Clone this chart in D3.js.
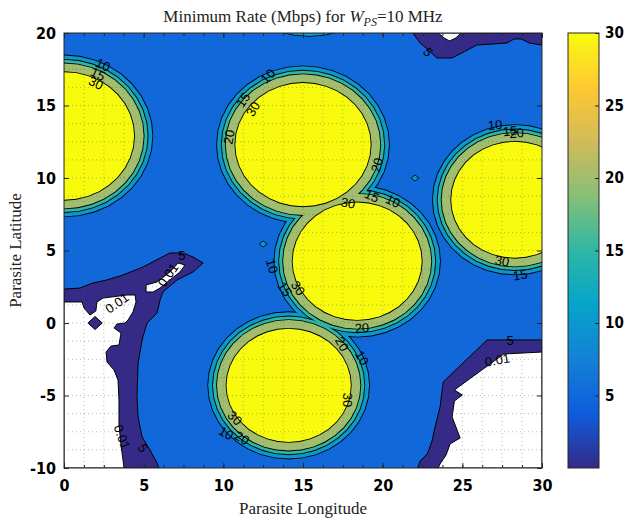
<!DOCTYPE html>
<html>
<head>
<meta charset="utf-8">
<script src="https://cdn.jsdelivr.net/npm/d3@7"></script>
<style>
  body { margin: 0; background: #fff; }
  svg { display: block; }
  .tick text { font-family: "DejaVu Sans Condensed", "DejaVu Sans", sans-serif; font-weight: bold; font-size: 16px; fill: #000; }
  .tick line { stroke: #262626; }
  .clabel { font-family: "Liberation Sans", Arial, sans-serif; font-size: 13px; fill: #000; }
  .ttl { font-family: "Liberation Serif", "DejaVu Serif", serif; font-size: 17px; fill: #222; }
</style>
</head>
<body>
<svg></svg>
<script>
const width = 627, height = 519;
const margin = { top: 33, right: 85, bottom: 51, left: 64 };
const innerWidth = width - margin.left - margin.right;
const innerHeight = height - margin.top - margin.bottom;

// contour levels (Mbps)
const levels = [0.01, 5, 10, 15, 20, 30];
const xTicks = [0, 5, 10, 15, 20, 25, 30];
const yTicks = [-10, -5, 0, 5, 10, 15, 20];
const cbTicks = [5, 10, 15, 20, 25, 30];

// parula colormap stops
const parula = ["#352a87", "#0f5cdd", "#1481d6", "#06a4ca", "#2eb7a4",
                "#87bf77", "#d1bb59", "#fec832", "#f9fb0e"];

// high-rate cells: centre and radius of the 30 Mbps contour
const cellX = [0.0, 15.0, 18.4, 14.1, 28.3, 15.4];
const cellY = [12.9, 12.3, 4.26, -4.3, 8.5, 25.5];
const cellR = [4.4, 4.25, 4.05, 3.9, 4.0, 4.55];

// contours around each cell: level and distance outside the 30 Mbps edge
const ringLevel = [10, 15, 20, 30];
const ringOffset = [1.15, 0.85, 0.6, 0];

// tiny isolated 10 Mbps spots
const spotX = [22.03, 12.5];
const spotY = [10.0, 5.45];

// low-rate zones: 5 Mbps contour (navy) and 0.01 contour (white)
const lowLeft5 = [[0, 2.34], [1.0, 2.41], [1.82, 2.76], [2.7, 2.97], [3.7, 3.31], [4.96, 3.86],
  [6.03, 4.48], [6.65, 4.83], [7.47, 4.83], [8.1, 4.55], [8.73, 4.14], [8.1, 3.52], [7.1, 2.97],
  [6.21, 2.14], [6.03, 1.59], [5.84, 0.69], [5.21, 0.0], [4.9, -1.17], [4.65, -2.76], [4.58, -5.1],
  [4.65, -6.48], [4.9, -7.86], [5.4, -8.76], [5.84, -9.66], [5.96, -10], [0, -10]];
const lowLeft0 = [[0, 1.45], [1.13, 1.45], [1.26, 1.03], [1.63, 0.55], [2.0, 0.83], [2.07, 1.45],
  [2.45, 1.72], [3.95, 1.93], [4.46, 1.93], [4.52, 1.45], [4.33, 0.76], [4.02, 0.21], [3.83, 0.0],
  [3.33, -0.07], [3.14, -0.34], [3.58, -0.69], [3.45, -1.52], [2.95, -1.59], [2.64, -2.0],
  [2.7, -2.69], [3.14, -3.24], [3.39, -3.93], [3.45, -5.31], [3.45, -7.03], [3.58, -8.41],
  [3.77, -10], [0, -10]];
const lowLeftIsland = [[1.5, 0.0], [1.95, 0.45], [2.4, 0.0], [1.95, -0.45]];
const lowLeftSliver = [[5.15, 2.62], [5.84, 2.83], [6.65, 3.52], [7.16, 4.14], [7.6, 4.0],
  [7.28, 3.52], [6.65, 2.97], [6.03, 2.41], [5.59, 2.14], [5.15, 2.14]];
const topRight5 = [[21.9, 20], [22.35, 19.31], [22.8, 18.9], [23.4, 18.28], [24.36, 18.28],
  [25.1, 18.7], [25.9, 19.17], [27.8, 19.31], [28.25, 19.59], [28.7, 19.59], [29.2, 19.31],
  [30, 19.17], [30, 20]];
const topRight0 = [[23.5, 20], [23.85, 19.66], [24.2, 19.45], [24.6, 19.66], [24.9, 20]];
const lowRight5 = [[30, -1.17], [26.55, -1.17], [23.8, -4.07], [23.6, -5.8], [23.29, -7.17],
  [23.1, -8.14], [22.8, -9.03], [22.35, -9.52], [22.2, -10], [30, -10]];
const lowRight0 = [[30, -2.0], [27.6, -2.14], [24.5, -4.62], [25.0, -4.97], [24.5, -5.38],
  [24.36, -6.48], [24.86, -7.93], [24.23, -8.34], [23.98, -9.1], [23.6, -9.72], [23.48, -10], [30, -10]];

// contour labels
const labelText = ["10", "15", "30", "10", "15", "30", "20", "20", "30", "15", "10",
  "10", "15", "30", "20", "20", "10", "30", "30", "10", "20",
  "10", "15", "20", "30", "15", "5", "0.01", "0.01", "0.01", "5", "5", "5", "0.01"];
const labelX = [2.45, 2.13, 2.0, 12.8, 11.24, 11.86, 10.36, 19.65, 17.83, 19.33, 20.65,
  13.06, 13.87, 14.69, 18.7, 17.45, 18.7, 17.77, 10.73, 10.17, 11.17,
  27.06, 28.0, 28.4, 27.5, 28.63, 7.4, 6.53, 3.33, 3.64, 4.96, 22.85, 28.0, 27.2];
const labelY = [17.8, 17.17, 16.55, 17.03, 15.38, 14.76, 12.83, 10.9, 8.28, 8.76, 8.41,
  3.93, 2.34, 2.41, -0.34, -1.45, -2.41, -5.31, -6.55, -7.59, -7.93,
  13.66, 13.24, 13.1, 4.28, 3.31, 4.69, 3.31, 1.38, -7.86, -8.62, 18.69, -1.17, -2.55];
const labelAngle = [25, 25, 25, -45, -55, -60, -80, -75, 10, 25, 25,
  75, 55, 55, -5, 60, 60, 90, 45, 30, 30,
  -5, -5, -5, 10, -10, 0, -55, -35, 70, 60, 50, 0, -10];

const svg = d3.select("svg")
    .attr("width", width)
    .attr("height", height);

const g = svg.append("g")
    .attr("transform", `translate(${margin.left},${margin.top})`);

const x = d3.scaleLinear().domain([0, 30]).range([0, innerWidth]);
const y = d3.scaleLinear().domain([-10, 20]).range([innerHeight, 0]);
const cmap = d3.scaleLinear()
    .domain(parula.map((c, i) => i * 30 / (parula.length - 1)))
    .range(parula);

svg.append("defs").append("clipPath").attr("id", "plot-clip")
  .append("rect").attr("width", innerWidth).attr("height", innerHeight);

const plot = g.append("g").attr("clip-path", "url(#plot-clip)");

// 5-10 Mbps background
plot.append("rect")
    .attr("width", innerWidth)
    .attr("height", innerHeight)
    .attr("fill", cmap(levels[1]));

const cells = d3.range(cellX.length);
const ringPath = (cx, cy, r) => {
  const pts = d3.range(0, 360, 10).map(a => {
    const t = a * Math.PI / 180;
    return [x(cx + r * Math.cos(t)), y(cy + r * Math.sin(t))];
  });
  return d3.line().curve(d3.curveLinearClosed)(pts);
};

ringLevel.forEach((lev, k) => {
  const layer = plot.append("g");
  layer.selectAll(".edge").data(cells).join("path")
      .attr("class", "edge")
      .attr("d", i => ringPath(cellX[i], cellY[i], cellR[i] + ringOffset[k]))
      .attr("fill", "none")
      .attr("stroke", "#000")
      .attr("stroke-width", 1.8);
  layer.selectAll(".fill").data(cells).join("path")
      .attr("class", "fill")
      .attr("d", i => ringPath(cellX[i], cellY[i], cellR[i] + ringOffset[k]))
      .attr("fill", cmap(lev));
});

plot.selectAll(".spot").data(d3.range(spotX.length)).join("path")
    .attr("class", "spot")
    .attr("d", i => {
      const cx = x(spotX[i]), cy = y(spotY[i]);
      return `M${cx - 4},${cy}L${cx},${cy - 3}L${cx + 4},${cy}L${cx},${cy + 3}Z`;
    })
    .attr("fill", cmap(10))
    .attr("stroke", "#000")
    .attr("stroke-width", 0.8);

const poly = d3.line().x(d => x(d[0])).y(d => y(d[1])).curve(d3.curveLinearClosed);
const lowZones = [
  { pts: lowLeft5, fill: cmap(levels[0]) },
  { pts: lowLeft0, fill: "#fff" },
  { pts: lowLeftIsland, fill: cmap(levels[0]) },
  { pts: lowLeftSliver, fill: "#fff" },
  { pts: topRight5, fill: cmap(levels[0]) },
  { pts: topRight0, fill: "#fff" },
  { pts: lowRight5, fill: cmap(levels[0]) },
  { pts: lowRight0, fill: "#fff" }
];
plot.selectAll(".zone").data(lowZones).join("path")
    .attr("class", "zone")
    .attr("d", d => poly(d.pts))
    .attr("fill", d => d.fill)
    .attr("stroke", "#000")
    .attr("stroke-width", 1);

// dotted minor grid
const xGrid = d3.range(0, 30.01, 1.25);
const yGrid = d3.range(-10, 20.01, 1.25);
plot.selectAll(".vgrid").data(xGrid).join("line")
    .attr("x1", d => x(d)).attr("x2", d => x(d))
    .attr("y1", 0).attr("y2", innerHeight)
    .attr("stroke", "#555").attr("stroke-opacity", 0.4)
    .attr("stroke-dasharray", "1,3");
plot.selectAll(".hgrid").data(yGrid).join("line")
    .attr("y1", d => y(d)).attr("y2", d => y(d))
    .attr("x1", 0).attr("x2", innerWidth)
    .attr("stroke", "#555").attr("stroke-opacity", 0.4)
    .attr("stroke-dasharray", "1,3");

// contour labels
g.append("g").selectAll(".clabel").data(labelText).join("text")
    .attr("class", "clabel")
    .attr("text-anchor", "middle")
    .attr("dy", "0.35em")
    .attr("transform", (d, i) => `translate(${x(labelX[i])},${y(labelY[i])}) rotate(${labelAngle[i]})`)
    .text(d => d);

// axes
const plain = d => String(d);
const addAxis = (axis, tx, ty) => {
  const a = g.append("g").attr("transform", `translate(${tx},${ty})`).call(axis);
  a.select(".domain").remove();
  return a;
};
addAxis(d3.axisBottom(x).tickValues(xTicks).tickSize(-5).tickPadding(12).tickFormat(plain), 0, innerHeight);
addAxis(d3.axisLeft(y).tickValues(yTicks).tickSize(-5).tickPadding(8).tickFormat(plain), 0, 0);
addAxis(d3.axisTop(x).tickValues(xTicks).tickSize(-5).tickFormat(""), 0, 0);
addAxis(d3.axisRight(y).tickValues(yTicks).tickSize(-5).tickFormat(""), innerWidth, 0);
addAxis(d3.axisBottom(x).tickValues(xGrid).tickSize(-3).tickFormat(""), 0, innerHeight);
addAxis(d3.axisTop(x).tickValues(xGrid).tickSize(-3).tickFormat(""), 0, 0);

g.append("rect")
    .attr("width", innerWidth)
    .attr("height", innerHeight)
    .attr("fill", "none")
    .attr("stroke", "#262626")
    .attr("stroke-width", 1);

// titles
svg.append("text")
    .attr("class", "ttl")
    .attr("x", margin.left + innerWidth / 2)
    .attr("y", 22)
    .attr("text-anchor", "middle")
    .call(t => {
      t.append("tspan").text("Minimum Rate (Mbps) for ");
      t.append("tspan").attr("font-style", "italic").text("W");
      t.append("tspan").attr("font-style", "italic").attr("font-size", "12px").attr("dy", 4).text("PS");
      t.append("tspan").attr("dy", -4).text("=10 MHz");
    });

svg.append("text")
    .attr("class", "ttl")
    .attr("x", margin.left + innerWidth / 2)
    .attr("y", 514)
    .attr("text-anchor", "middle")
    .text("Parasite Longitude");

svg.append("text")
    .attr("class", "ttl")
    .attr("transform", `translate(21,${margin.top + innerHeight / 2}) rotate(-90)`)
    .attr("text-anchor", "middle")
    .text("Parasite Latitude");

// colorbar
const cbX = 568, cbW = 31;
const cbScale = d3.scaleLinear().domain([0, 30]).range([margin.top + innerHeight, margin.top]);
const grad = svg.select("defs").append("linearGradient")
    .attr("id", "cb-grad")
    .attr("x1", 0).attr("y1", 1).attr("x2", 0).attr("y2", 0);
grad.selectAll("stop").data(cmap.domain()).join("stop")
    .attr("offset", d => d / 30)
    .attr("stop-color", d => cmap(d));
svg.append("rect")
    .attr("x", cbX).attr("y", margin.top)
    .attr("width", cbW).attr("height", innerHeight)
    .attr("fill", "url(#cb-grad)")
    .attr("stroke", "#262626");
const cbAxis = svg.append("g")
    .attr("transform", `translate(${cbX + cbW},0)`)
    .call(d3.axisRight(cbScale).tickValues(cbTicks).tickSize(-4).tickPadding(6).tickFormat(plain));
cbAxis.select(".domain").remove();
cbAxis.selectAll("text").style("font-size", "15px");
</script>
</body>
</html>
